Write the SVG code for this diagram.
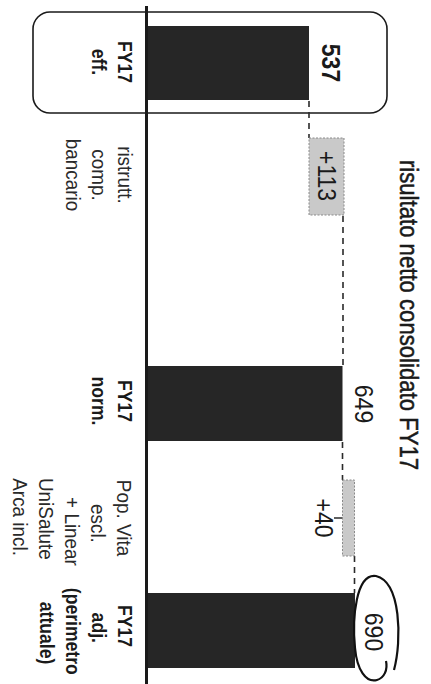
<svg xmlns="http://www.w3.org/2000/svg" width="431" height="684" viewBox="0 0 431 684">
<style>
  text { font-family: "Liberation Sans", Arial, sans-serif; fill: #1a1a1a; }
  .lbl { font-size: 21px; fill: #2a2a2a; }
  .bold { font-size: 20px; font-weight: bold; }
  .num { font-size: 25px; }
  .title { font-size: 25px; stroke: #1a1a1a; stroke-width: 0.5; }
  .bar { fill: #262626; }
  .delta { fill: #c9c9c9; stroke: #8a8a8a; stroke-width: 1; stroke-dasharray: 2 1.5; }
  .dash { stroke: #2a2a2a; stroke-width: 1.6; stroke-dasharray: 6 5; fill: none; }
</style>
<rect width="431" height="684" fill="#ffffff"/>

<g id="title">
  <text class="title" transform="translate(400,315) rotate(90) scale(0.886,1)" text-anchor="middle">risultato netto consolidato FY17</text>
</g>

<g id="highlight-box">
  <rect x="33" y="12" width="354" height="101" rx="17" ry="17" fill="none" stroke="#1a1a1a" stroke-width="1.6"/>
</g>

<g id="connectors">
  <line class="dash" x1="309" y1="101" x2="309" y2="138"/>
  <line class="dash" x1="343" y1="216" x2="343" y2="366"/>
  <line class="dash" x1="342.5" y1="442" x2="342.5" y2="480"/>
  <line class="dash" x1="354.5" y1="556" x2="354.5" y2="593"/>
  <line x1="334" y1="518" x2="346" y2="518" stroke="#1a1a1a" stroke-width="1.4"/>
</g>

<g id="bar-fy17-eff">
  <rect class="bar" x="148" y="26" width="161" height="74"/>
  <text class="num" font-weight="bold" transform="translate(322,63) rotate(90) scale(0.92,1)" text-anchor="middle">537</text>
  <text class="bold" transform="translate(118,62) rotate(90) scale(0.88,1)" text-anchor="middle">FY17<tspan x="0" dy="26">eff.</tspan></text>
</g>

<g id="delta-ristrutt">
  <rect class="delta" x="309" y="138" width="35" height="77"/>
  <text class="num" font-size="23" transform="translate(318,176) rotate(90) scale(0.92,1)" text-anchor="middle">+113</text>
  <text class="lbl" transform="translate(118,175) rotate(90) scale(0.9,1)" text-anchor="middle">ristrutt.<tspan x="0" dy="26">comp.</tspan><tspan x="0" dy="26">bancario</tspan></text>
</g>

<g id="bar-fy17-norm">
  <rect class="bar" x="148" y="366" width="194.5" height="75"/>
  <text class="num" transform="translate(355,404) rotate(90) scale(0.92,1)" text-anchor="middle">649</text>
  <text class="bold" transform="translate(118,401) rotate(90) scale(0.88,1)" text-anchor="middle">FY17<tspan x="0" dy="26">norm.</tspan></text>
</g>

<g id="delta-popvita">
  <rect class="delta" x="342.5" y="480" width="12" height="76" fill="#b5b5b5"/>
  <text class="num" font-size="23" transform="translate(315,518) rotate(90) scale(0.92,1)" text-anchor="middle">+40</text>
  <text class="lbl" transform="translate(117,518) rotate(90) scale(0.9,1)" text-anchor="middle">Pop. Vita<tspan x="6" dy="26">escl.</tspan><tspan x="15" dy="26">+ Linear</tspan><tspan x="1" dy="26">UniSalute</tspan><tspan x="-1" dy="26">Arca incl.</tspan></text>
</g>

<g id="bar-fy17-adj">
  <rect class="bar" x="148" y="593" width="207" height="75"/>
  <text class="num" transform="translate(365,632) rotate(90) scale(0.92,1)" text-anchor="middle">690</text>
  <path d="M 394 670 C 402 640, 401 582, 376 576 C 356 573, 352 618, 355 648 C 357 670, 366 683, 377 680 C 384 678, 388 670, 386 661" fill="none" stroke="#111" stroke-width="2.2"/>
  <text class="bold" transform="translate(118,626) rotate(90) scale(0.88,1)" text-anchor="middle">FY17<tspan x="2" dy="26">adj.</tspan><tspan x="6" dy="26">(perimetro</tspan><tspan x="8" dy="26">attuale)</tspan></text>
</g>

<g id="axis">
  <line x1="146.5" y1="6" x2="146.5" y2="684" stroke="#1a1a1a" stroke-width="3"/>
</g>
</svg>
